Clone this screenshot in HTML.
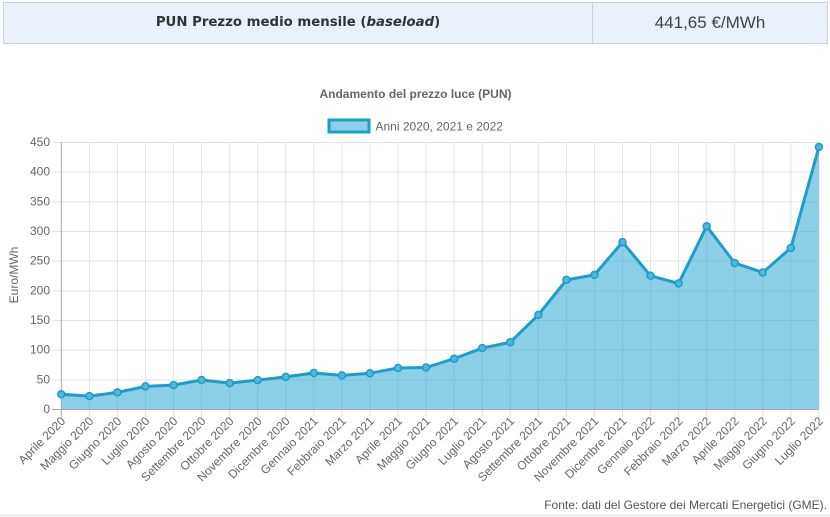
<!DOCTYPE html>
<html>
<head>
<meta charset="utf-8">
<style>
  html,body{margin:0;padding:0;background:#fff;}
  body{width:830px;height:517px;position:relative;overflow:hidden;font-family:"Liberation Sans",Arial,sans-serif;}
  .hdr{position:absolute;left:3px;top:2px;width:823px;height:40px;border:1px solid #c8d3de;background:#e9f1fa;}
  .hdr .c1{position:absolute;left:0;top:0;width:588px;height:40px;line-height:40px;text-align:center;
    font-family:"DejaVu Sans",Verdana,sans-serif;font-weight:bold;font-size:13.3px;color:#333;border-right:1px solid #c8d3de;}
  .hdr .c2{position:absolute;left:589px;top:0;width:234px;height:40px;line-height:40px;text-align:center;
    font-family:"Liberation Sans",Arial,sans-serif;font-size:17px;color:#444;}
  .foot{position:absolute;left:0;top:514px;width:830px;height:3px;background:#eeeeee;}
  svg{position:absolute;left:0;top:0;}
</style>
</head>
<body>
<div class="hdr">
  <div class="c1">PUN Prezzo medio mensile (<i>baseload</i>)</div>
  <div class="c2">441,65 €/MWh</div>
</div>

<svg width="830" height="517" viewBox="0 0 830 517" xmlns="http://www.w3.org/2000/svg" font-family="Liberation Sans, Arial, sans-serif">
  <!-- title -->
  <text x="415.5" y="94" text-anchor="middle" dominant-baseline="central" font-size="12" font-weight="bold" fill="#666">Andamento del prezzo luce (PUN)</text>
  <!-- legend -->
  <rect x="329" y="120" width="40" height="12" fill="#8bd0e8" stroke="#1e9dc9" stroke-width="3"/>
  <text x="375.5" y="126.5" dominant-baseline="central" font-size="12" fill="#666">Anni 2020, 2021 e 2022</text>

  <!-- horizontal grid + y ticks -->
  <g stroke="#e3e3e3" stroke-width="1">
    <line x1="52" x2="819" y1="142.5" y2="142.5"/>
    <line x1="52" x2="819" y1="172.17" y2="172.17"/>
    <line x1="52" x2="819" y1="201.83" y2="201.83"/>
    <line x1="52" x2="819" y1="231.5" y2="231.5"/>
    <line x1="52" x2="819" y1="261.17" y2="261.17"/>
    <line x1="52" x2="819" y1="290.83" y2="290.83"/>
    <line x1="52" x2="819" y1="320.5" y2="320.5"/>
    <line x1="52" x2="819" y1="350.17" y2="350.17"/>
    <line x1="52" x2="819" y1="379.83" y2="379.83"/>
  </g>
  <!-- vertical grid -->
  <g stroke="#e3e3e3" stroke-width="1" id="vg">
    <line x1="89.36" x2="89.36" y1="142" y2="417"/>
    <line x1="117.42" x2="117.42" y1="142" y2="417"/>
    <line x1="145.48" x2="145.48" y1="142" y2="417"/>
    <line x1="173.54" x2="173.54" y1="142" y2="417"/>
    <line x1="201.6" x2="201.6" y1="142" y2="417"/>
    <line x1="229.66" x2="229.66" y1="142" y2="417"/>
    <line x1="257.72" x2="257.72" y1="142" y2="417"/>
    <line x1="285.78" x2="285.78" y1="142" y2="417"/>
    <line x1="313.84" x2="313.84" y1="142" y2="417"/>
    <line x1="341.9" x2="341.9" y1="142" y2="417"/>
    <line x1="369.96" x2="369.96" y1="142" y2="417"/>
    <line x1="398.02" x2="398.02" y1="142" y2="417"/>
    <line x1="426.08" x2="426.08" y1="142" y2="417"/>
    <line x1="454.14" x2="454.14" y1="142" y2="417"/>
    <line x1="482.2" x2="482.2" y1="142" y2="417"/>
    <line x1="510.26" x2="510.26" y1="142" y2="417"/>
    <line x1="538.32" x2="538.32" y1="142" y2="417"/>
    <line x1="566.38" x2="566.38" y1="142" y2="417"/>
    <line x1="594.44" x2="594.44" y1="142" y2="417"/>
    <line x1="622.5" x2="622.5" y1="142" y2="417"/>
    <line x1="650.56" x2="650.56" y1="142" y2="417"/>
    <line x1="678.62" x2="678.62" y1="142" y2="417"/>
    <line x1="706.68" x2="706.68" y1="142" y2="417"/>
    <line x1="734.74" x2="734.74" y1="142" y2="417"/>
    <line x1="762.8" x2="762.8" y1="142" y2="417"/>
    <line x1="790.86" x2="790.86" y1="142" y2="417"/>
    <line x1="818.92" x2="818.92" y1="142" y2="417"/>
  </g>

  <!-- area fill -->
  <polygon fill="rgba(23,162,209,0.5)" points="61.3,409 61.3,394.3 89.36,396.1 117.42,392.4 145.48,386.4 173.54,385.1 201.6,380.0 229.66,383.1 257.72,380.1 285.78,376.9 313.84,373.0 341.9,375.4 369.96,373.2 398.02,368.0 426.08,367.5 454.14,358.7 482.2,348.1 510.26,342.3 538.32,314.9 566.38,279.9 594.44,274.9 622.5,242.1 650.56,275.8 678.62,283.4 706.68,226.2 734.74,263.1 762.8,272.5 790.86,248.0 818.92,146.95 818.92,409"/>

  <!-- axes -->
  <line x1="61.3" x2="61.3" y1="142" y2="417" stroke="#a8a8a8" stroke-width="1"/>
  <line x1="52" x2="819" y1="409.5" y2="409.5" stroke="#a8a8a8" stroke-width="1"/>

  <!-- line -->
  <polyline fill="none" stroke="#1e9dc9" stroke-width="3" stroke-linejoin="round" points="61.3,394.3 89.36,396.1 117.42,392.4 145.48,386.4 173.54,385.1 201.6,380.0 229.66,383.1 257.72,380.1 285.78,376.9 313.84,373.0 341.9,375.4 369.96,373.2 398.02,368.0 426.08,367.5 454.14,358.7 482.2,348.1 510.26,342.3 538.32,314.9 566.38,279.9 594.44,274.9 622.5,242.1 650.56,275.8 678.62,283.4 706.68,226.2 734.74,263.1 762.8,272.5 790.86,248.0 818.92,146.95"/>

  <!-- points -->
  <g fill="#4fb6dc" stroke="#1e9dc9" stroke-width="1.5">
    <circle cx="61.3" cy="394.3" r="3.5"/><circle cx="89.36" cy="396.1" r="3.5"/><circle cx="117.42" cy="392.4" r="3.5"/>
    <circle cx="145.48" cy="386.4" r="3.5"/><circle cx="173.54" cy="385.1" r="3.5"/><circle cx="201.6" cy="380.0" r="3.5"/>
    <circle cx="229.66" cy="383.1" r="3.5"/><circle cx="257.72" cy="380.1" r="3.5"/><circle cx="285.78" cy="376.9" r="3.5"/>
    <circle cx="313.84" cy="373.0" r="3.5"/><circle cx="341.9" cy="375.4" r="3.5"/><circle cx="369.96" cy="373.2" r="3.5"/>
    <circle cx="398.02" cy="368.0" r="3.5"/><circle cx="426.08" cy="367.5" r="3.5"/><circle cx="454.14" cy="358.7" r="3.5"/>
    <circle cx="482.2" cy="348.1" r="3.5"/><circle cx="510.26" cy="342.3" r="3.5"/><circle cx="538.32" cy="314.9" r="3.5"/>
    <circle cx="566.38" cy="279.9" r="3.5"/><circle cx="594.44" cy="274.9" r="3.5"/><circle cx="622.5" cy="242.1" r="3.5"/>
    <circle cx="650.56" cy="275.8" r="3.5"/><circle cx="678.62" cy="283.4" r="3.5"/><circle cx="706.68" cy="226.2" r="3.5"/>
    <circle cx="734.74" cy="263.1" r="3.5"/><circle cx="762.8" cy="272.5" r="3.5"/><circle cx="790.86" cy="248.0" r="3.5"/>
    <circle cx="818.92" cy="146.95" r="3.5"/>
  </g>

  <!-- y labels -->
  <g font-size="12" fill="#666" text-anchor="end" dominant-baseline="central">
    <text x="50" y="142">450</text>
    <text x="50" y="171.67">400</text>
    <text x="50" y="201.33">350</text>
    <text x="50" y="231">300</text>
    <text x="50" y="260.67">250</text>
    <text x="50" y="290.33">200</text>
    <text x="50" y="320">150</text>
    <text x="50" y="349.67">100</text>
    <text x="50" y="379.33">50</text>
    <text x="50" y="409">0</text>
  </g>
  <text x="14" y="275" font-size="12" fill="#666" text-anchor="middle" dominant-baseline="central" transform="rotate(-90 14 275)">Euro/MWh</text>

  <!-- x labels -->
  <g font-size="12" fill="#666" text-anchor="end" dominant-baseline="central">
    <text x="63.3" y="419" transform="rotate(-45 63.3 419)">Aprile 2020</text>
    <text x="91.36" y="419" transform="rotate(-45 91.36 419)">Maggio 2020</text>
    <text x="119.42" y="419" transform="rotate(-45 119.42 419)">Giugno 2020</text>
    <text x="147.48" y="419" transform="rotate(-45 147.48 419)">Luglio 2020</text>
    <text x="175.54" y="419" transform="rotate(-45 175.54 419)">Agosto 2020</text>
    <text x="203.6" y="419" transform="rotate(-45 203.6 419)">Settembre 2020</text>
    <text x="231.66" y="419" transform="rotate(-45 231.66 419)">Ottobre 2020</text>
    <text x="259.72" y="419" transform="rotate(-45 259.72 419)">Novembre 2020</text>
    <text x="287.78" y="419" transform="rotate(-45 287.78 419)">Dicembre 2020</text>
    <text x="315.84" y="419" transform="rotate(-45 315.84 419)">Gennaio 2021</text>
    <text x="343.9" y="419" transform="rotate(-45 343.9 419)">Febbraio 2021</text>
    <text x="371.96" y="419" transform="rotate(-45 371.96 419)">Marzo 2021</text>
    <text x="400.02" y="419" transform="rotate(-45 400.02 419)">Aprile 2021</text>
    <text x="428.08" y="419" transform="rotate(-45 428.08 419)">Maggio 2021</text>
    <text x="456.14" y="419" transform="rotate(-45 456.14 419)">Giugno 2021</text>
    <text x="484.2" y="419" transform="rotate(-45 484.2 419)">Luglio 2021</text>
    <text x="512.26" y="419" transform="rotate(-45 512.26 419)">Agosto 2021</text>
    <text x="540.32" y="419" transform="rotate(-45 540.32 419)">Settembre 2021</text>
    <text x="568.38" y="419" transform="rotate(-45 568.38 419)">Ottobre 2021</text>
    <text x="596.44" y="419" transform="rotate(-45 596.44 419)">Novembre 2021</text>
    <text x="624.5" y="419" transform="rotate(-45 624.5 419)">Dicembre 2021</text>
    <text x="652.56" y="419" transform="rotate(-45 652.56 419)">Gennaio 2022</text>
    <text x="680.62" y="419" transform="rotate(-45 680.62 419)">Febbraio 2022</text>
    <text x="708.68" y="419" transform="rotate(-45 708.68 419)">Marzo 2022</text>
    <text x="736.74" y="419" transform="rotate(-45 736.74 419)">Aprile 2022</text>
    <text x="764.8" y="419" transform="rotate(-45 764.8 419)">Maggio 2022</text>
    <text x="792.86" y="419" transform="rotate(-45 792.86 419)">Giugno 2022</text>
    <text x="820.92" y="419" transform="rotate(-45 820.92 419)">Luglio 2022</text>
  </g>

  <!-- footer source -->
  <text x="827" y="505" font-size="12" fill="#555" text-anchor="end" dominant-baseline="central">Fonte: dati del Gestore dei Mercati Energetici (GME).</text>
</svg>
<div class="foot"></div>
</body>
</html>
